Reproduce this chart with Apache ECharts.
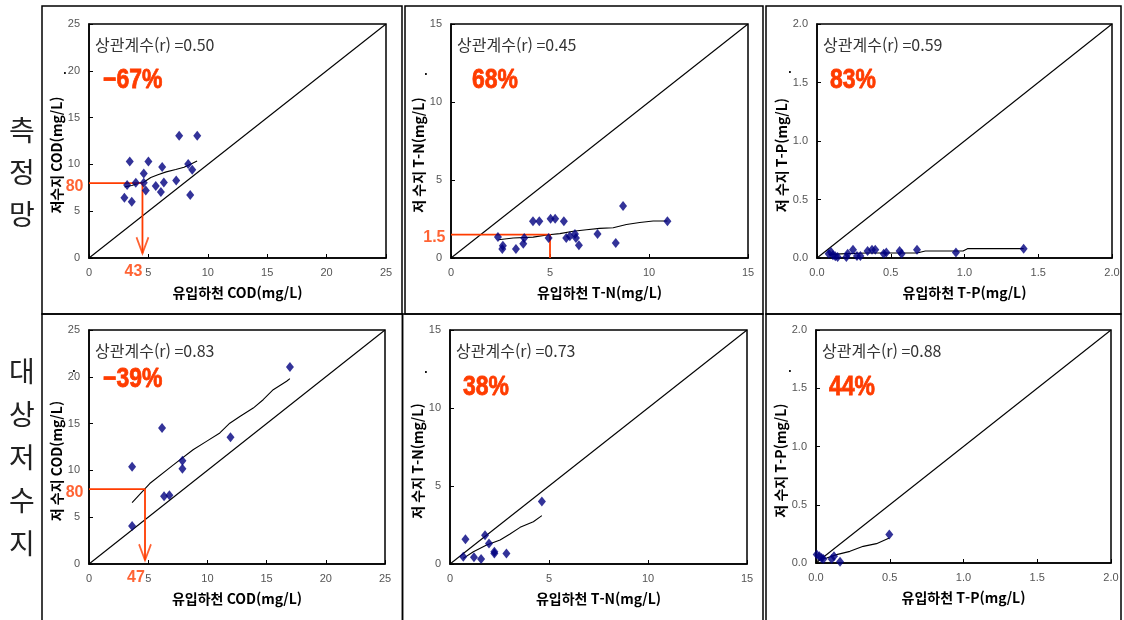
<!DOCTYPE html>
<html lang="ko">
<head>
<meta charset="UTF-8">
<title>유입하천 - 저수지 수질 비교</title>
<script src="https://cdnjs.cloudflare.com/ajax/libs/echarts/6.0.0/echarts.min.js"></script>
<style>
  html, body { margin: 0; padding: 0; background: #fff; }
  #chart { width: 1124px; height: 620px; }
</style>
</head>
<body>
<div id="chart"></div>
<script>
// 축 눈금
const codTicks = [0, 5, 10, 15, 20, 25];
const tnTicks = [0, 5, 10, 15];
const tpTicks = [0, 0.5, 1.0, 1.5, 2.0];

// 측정망 COD  [유입하천, 저수지]
const codNetPoints = [[3.43, 10.31], [5.0, 10.31], [7.59, 13.05], [9.11, 13.05], [6.16, 9.71], [8.35, 10.03],
  [8.69, 9.42], [4.61, 9.03], [3.21, 7.79], [3.94, 8.04], [4.61, 8.04], [4.78, 7.22], [5.62, 7.68],
  [6.30, 8.07], [6.05, 7.04], [7.34, 8.29], [8.52, 6.72], [2.98, 6.44], [3.60, 6.01]];
const codNetTrend = [[3.0, 7.6], [3.6, 7.75], [4.2, 8.0], [4.6, 8.1], [5.2, 8.6], [5.8, 8.9], [6.5, 9.2],
  [7.3, 9.45], [8.0, 9.7], [8.5, 10.0], [9.1, 10.35]];
const codNetGuide = { x: 4.5, y: 8, tip: 0.5, yText: '80', xText: '43', arrow: true };

// 측정망 T-N
const tnNetPoints = [[2.37, 1.34], [2.59, 0.58], [2.62, 0.79], [3.28, 0.58], [3.65, 0.92], [3.70, 1.28],
  [4.14, 2.35], [4.46, 2.35], [4.93, 1.28], [5.03, 2.52], [5.26, 2.52], [5.70, 2.35], [5.82, 1.28],
  [6.0, 1.39], [6.26, 1.54], [6.31, 1.28], [6.46, 0.81], [7.40, 1.54], [8.32, 0.96], [8.69, 3.33], [10.93, 2.35]];
const tnNetTrend = [[2.4, 1.17], [3.14, 1.28], [4.15, 1.34], [4.93, 1.49], [5.5, 1.56], [6.17, 1.71],
  [6.84, 1.81], [7.51, 1.9], [8.19, 1.94], [8.86, 2.15], [9.53, 2.28], [10.21, 2.37], [10.93, 2.37]];
const tnNetGuide = { x: 5, y: 1.5, tip: 0, yText: '1.5', xText: '', arrow: false };

// 측정망 T-P
const tpNetPoints = [[0.079, 0.037], [0.095, 0.051], [0.108, 0.023], [0.124, 0.014], [0.14, 0.009],
  [0.199, 0.009], [0.208, 0.037], [0.244, 0.071], [0.271, 0.017], [0.294, 0.017], [0.343, 0.06],
  [0.373, 0.071], [0.395, 0.071], [0.452, 0.037], [0.47, 0.046], [0.56, 0.06], [0.574, 0.037],
  [0.678, 0.071], [0.942, 0.046], [1.401, 0.08]];
const tpNetTrend = [[0.079, 0.031], [0.203, 0.037], [0.339, 0.043], [0.52, 0.043], [0.678, 0.043],
  [0.734, 0.06], [0.99, 0.06], [1.02, 0.08], [1.401, 0.08]];

// 대상저수지 COD
const codResPoints = [[3.64, 10.39], [3.64, 4.05], [6.17, 14.54], [6.34, 7.23], [6.79, 7.34],
  [7.89, 11.03], [7.89, 10.17], [11.95, 13.54], [16.97, 21.06]];
const codResTrend = [[3.64, 6.55], [5.13, 8.6], [7.1, 10.57], [8.79, 12.2], [9.92, 13.1], [11.05, 14.0],
  [11.89, 15.04], [12.74, 15.76], [13.87, 16.66], [14.71, 17.55], [15.56, 18.62], [16.69, 19.52], [16.97, 19.81]];
const codResGuide = { x: 4.73, y: 8, tip: 0.4, yText: '80', xText: '47', arrow: true };

// 대상저수지 T-N
const tnResPoints = [[0.67, 0.47], [0.78, 1.58], [1.21, 0.43], [1.57, 0.32], [1.77, 1.84], [1.97, 1.32],
  [2.24, 0.68], [2.24, 0.79], [2.85, 0.68], [4.64, 4.0]];
const tnResTrend = [[0.67, 0.36], [1.18, 0.79], [1.85, 1.22], [2.53, 1.54], [3.03, 1.92], [3.54, 2.35],
  [4.21, 2.71], [4.64, 3.1]];

// 대상저수지 T-P
const tpResPoints = [[0.005, 0.072], [0.023, 0.057], [0.038, 0.043], [0.05, 0.034], [0.106, 0.034],
  [0.122, 0.057], [0.163, 0.011], [0.497, 0.244]];
const tpResTrend = [[0.005, 0.023], [0.072, 0.043], [0.14, 0.072], [0.23, 0.1], [0.32, 0.143],
  [0.41, 0.166], [0.497, 0.215]];

const KR = '"Noto Sans CJK KR", sans-serif';
const NUM = '"Liberation Sans", Arial, sans-serif';
const NARROW = '"Liberation Sans Narrow", "Liberation Sans", sans-serif';
const RED = '#ff3c00';
const NAVY = '#000080';

const panels = [
  { ticks: codTicks, dec: 0, xName: '유입하천 COD(mg/L)', yName: '저수지 COD(mg/L)', points: codNetPoints, trend: codNetTrend, r: '0.50', pct: '−67%', guide: codNetGuide },
  { ticks: tnTicks, dec: 0, xName: '유입하천 T-N(mg/L)', yName: '저 수지 T-N(mg/L)', points: tnNetPoints, trend: tnNetTrend, r: '0.45', pct: '68%', guide: tnNetGuide },
  { ticks: tpTicks, dec: 1, xName: '유입하천 T-P(mg/L)', yName: '저 수지 T-P(mg/L)', points: tpNetPoints, trend: tpNetTrend, r: '0.59', pct: '83%', guide: null },
  { ticks: codTicks, dec: 0, xName: '유입하천 COD(mg/L)', yName: '저 수지 COD(mg/L)', points: codResPoints, trend: codResTrend, r: '0.83', pct: '−39%', guide: codResGuide },
  { ticks: tnTicks, dec: 0, xName: '유입하천 T-N(mg/L)', yName: '저 수지 T-N(mg/L)', points: tnResPoints, trend: tnResTrend, r: '0.73', pct: '38%', guide: null },
  { ticks: tpTicks, dec: 1, xName: '유입하천 T-P(mg/L)', yName: '저 수지 T-P(mg/L)', points: tpResPoints, trend: tpResTrend, r: '0.88', pct: '44%', guide: null }
];

// 화면 배치
const layouts = [
  { left: 89, top: 24, width: 297, height: 234, yGap: 20, pct: [14, 57], dot: [-24, 47] },
  { left: 451, top: 24, width: 297, height: 234, yGap: 22, pct: [21, 57], dot: [-25, 48] },
  { left: 817, top: 24, width: 295, height: 234, yGap: 25, pct: [13, 57], dot: [-27, 46] },
  { left: 89, top: 330, width: 296, height: 234, yGap: 20, pct: [14, 50], dot: [-15, 39] },
  { left: 450, top: 330, width: 297, height: 234, yGap: 21, pct: [13, 58], dot: [-24, 40] },
  { left: 816, top: 330, width: 295, height: 233, yGap: 24, pct: [13, 58], dot: [-26, 39] }
];

const grids = [], xAxes = [], yAxes = [], series = [], graphics = [];

function axisCommon(p) {
  const lo = p.ticks[0], hi = p.ticks[p.ticks.length - 1];
  return {
    type: 'value', min: lo, max: hi, interval: p.ticks[1] - p.ticks[0],
    nameLocation: 'middle',
    nameTextStyle: { fontFamily: KR, fontWeight: 'bold', fontSize: 14, color: '#000' },
    axisLine: { show: true, onZero: false, lineStyle: { color: '#000', width: 1.5 } },
    axisTick: { show: true, inside: true, length: 4, lineStyle: { color: '#000', width: 1 } },
    axisLabel: { show: true, color: '#555', fontSize: 11, fontFamily: NUM, margin: 9,
      formatter: v => v.toFixed(p.dec) },
    splitLine: { show: false }
  };
}

panels.forEach((p, i) => {
  const lay = layouts[i];
  const lo = p.ticks[0], hi = p.ticks[p.ticks.length - 1];
  grids.push({ left: lay.left, top: lay.top, width: lay.width, height: lay.height,
    show: true, borderColor: '#000', borderWidth: 1.5, containLabel: false, outerBoundsMode: 'none' });
  xAxes.push(Object.assign(axisCommon(p), { gridIndex: i, name: p.xName, nameGap: 28 }));
  yAxes.push(Object.assign(axisCommon(p), { gridIndex: i, name: p.yName, nameGap: lay.yGap,
    nameTextStyle: { fontFamily: KR, fontWeight: 'bold', fontSize: 14, color: '#000', padding: [0, 28, 0, 0] } }));

  // 1:1 선
  series.push({ type: 'line', xAxisIndex: i, yAxisIndex: i, data: [[lo, lo], [hi, hi]],
    symbol: 'none', silent: true, lineStyle: { color: '#000', width: 1.1 }, z: 2 });
  // 추세선
  series.push({ type: 'line', xAxisIndex: i, yAxisIndex: i, data: p.trend,
    symbol: 'none', silent: true, lineStyle: { color: '#000', width: 1.1 }, z: 3 });

  if (p.guide) {
    const g = p.guide;
    series.push({ type: 'line', xAxisIndex: i, yAxisIndex: i,
      data: [[lo, g.y], [g.x, g.y], [g.x, g.tip]],
      symbol: 'none', silent: true, lineStyle: { color: RED, width: 1.8 }, z: 4 });
    const marks = [{
      value: [lo, g.y], symbol: 'circle', symbolSize: 1, itemStyle: { color: 'none' },
      label: { show: true, formatter: g.yText, position: 'left', distance: 5, offset: [0, 3],
        color: RED, fontFamily: NARROW, fontWeight: 'bold', fontSize: 16 }
    }];
    if (g.arrow) {
      marks.push({
        value: [g.x, g.tip], symbol: 'path://M0,0 L6,16 L12,0', symbolSize: [12, 16], symbolOffset: [0, -8],
        itemStyle: { color: 'none', borderColor: RED, borderWidth: 2 }
      });
    }
    if (g.xText) {
      marks.push({
        value: [g.x, lo], symbol: 'circle', symbolSize: 1, itemStyle: { color: 'none' },
        label: { show: true, formatter: g.xText, position: 'bottom', distance: 5, offset: [-9, 0],
          color: RED, fontFamily: NARROW, fontWeight: 'bold', fontSize: 16 }
      });
    }
    series.push({ type: 'scatter', xAxisIndex: i, yAxisIndex: i, data: marks, silent: true, z: 5 });
  }

  // 측정값
  series.push({ type: 'scatter', xAxisIndex: i, yAxisIndex: i, data: p.points,
    symbol: 'diamond', symbolSize: [8, 10], itemStyle: { color: NAVY }, z: 6 });

  graphics.push({ type: 'text', x: lay.left + 6, y: lay.top + 21, z: 10,
    style: { text: '상관계수(r) =' + p.r, font: '16px ' + KR, fill: '#333',
      align: 'left', verticalAlign: 'middle', textAlign: 'left', textVerticalAlign: 'middle' } });
  graphics.push({ type: 'text', x: lay.left + lay.pct[0], y: lay.top + lay.pct[1], scaleX: 0.85, z: 10,
    style: { text: p.pct, font: 'bold 27px ' + NUM, fill: RED, stroke: RED, lineWidth: 0.8,
      align: 'left', verticalAlign: 'middle', textAlign: 'left', textVerticalAlign: 'middle' } });
  graphics.push({ type: 'text', x: lay.left + lay.dot[0], y: lay.top + lay.dot[1], z: 10,
    style: { text: '.', font: 'bold 12px ' + NUM, fill: '#000',
      align: 'center', verticalAlign: 'middle', textAlign: 'center', textVerticalAlign: 'middle' } });
});

// 틀
const frames = [
  [42, 6, 360, 308], [405, 6, 358, 308], [766, 6, 355, 308],
  [42, 314, 360.5, 320], [402.5, 314, 360.5, 320], [766, 314, 355, 320]
];
frames.forEach(f => graphics.push({ type: 'rect', silent: true, z: 1,
  shape: { x: f[0], y: f[1], width: f[2], height: f[3] },
  style: { fill: 'none', stroke: '#000', lineWidth: 1.5 } }));

// 행 제목
graphics.push({ type: 'text', x: 22, y: 109, z: 10,
  style: { text: '측\n정\n망', font: '28px ' + KR, fill: '#222', lineHeight: 42,
    align: 'center', verticalAlign: 'top', textAlign: 'center', textVerticalAlign: 'top' } });
graphics.push({ type: 'text', x: 22, y: 350, z: 10,
  style: { text: '대\n상\n저\n수\n지', font: '28px ' + KR, fill: '#222', lineHeight: 43,
    align: 'center', verticalAlign: 'top', textAlign: 'center', textVerticalAlign: 'top' } });

const chart = echarts.init(document.getElementById('chart'));
chart.setOption({
  animation: false,
  backgroundColor: '#fff',
  grid: grids,
  xAxis: xAxes,
  yAxis: yAxes,
  series: series,
  graphic: graphics
});
</script>
</body>
</html>
